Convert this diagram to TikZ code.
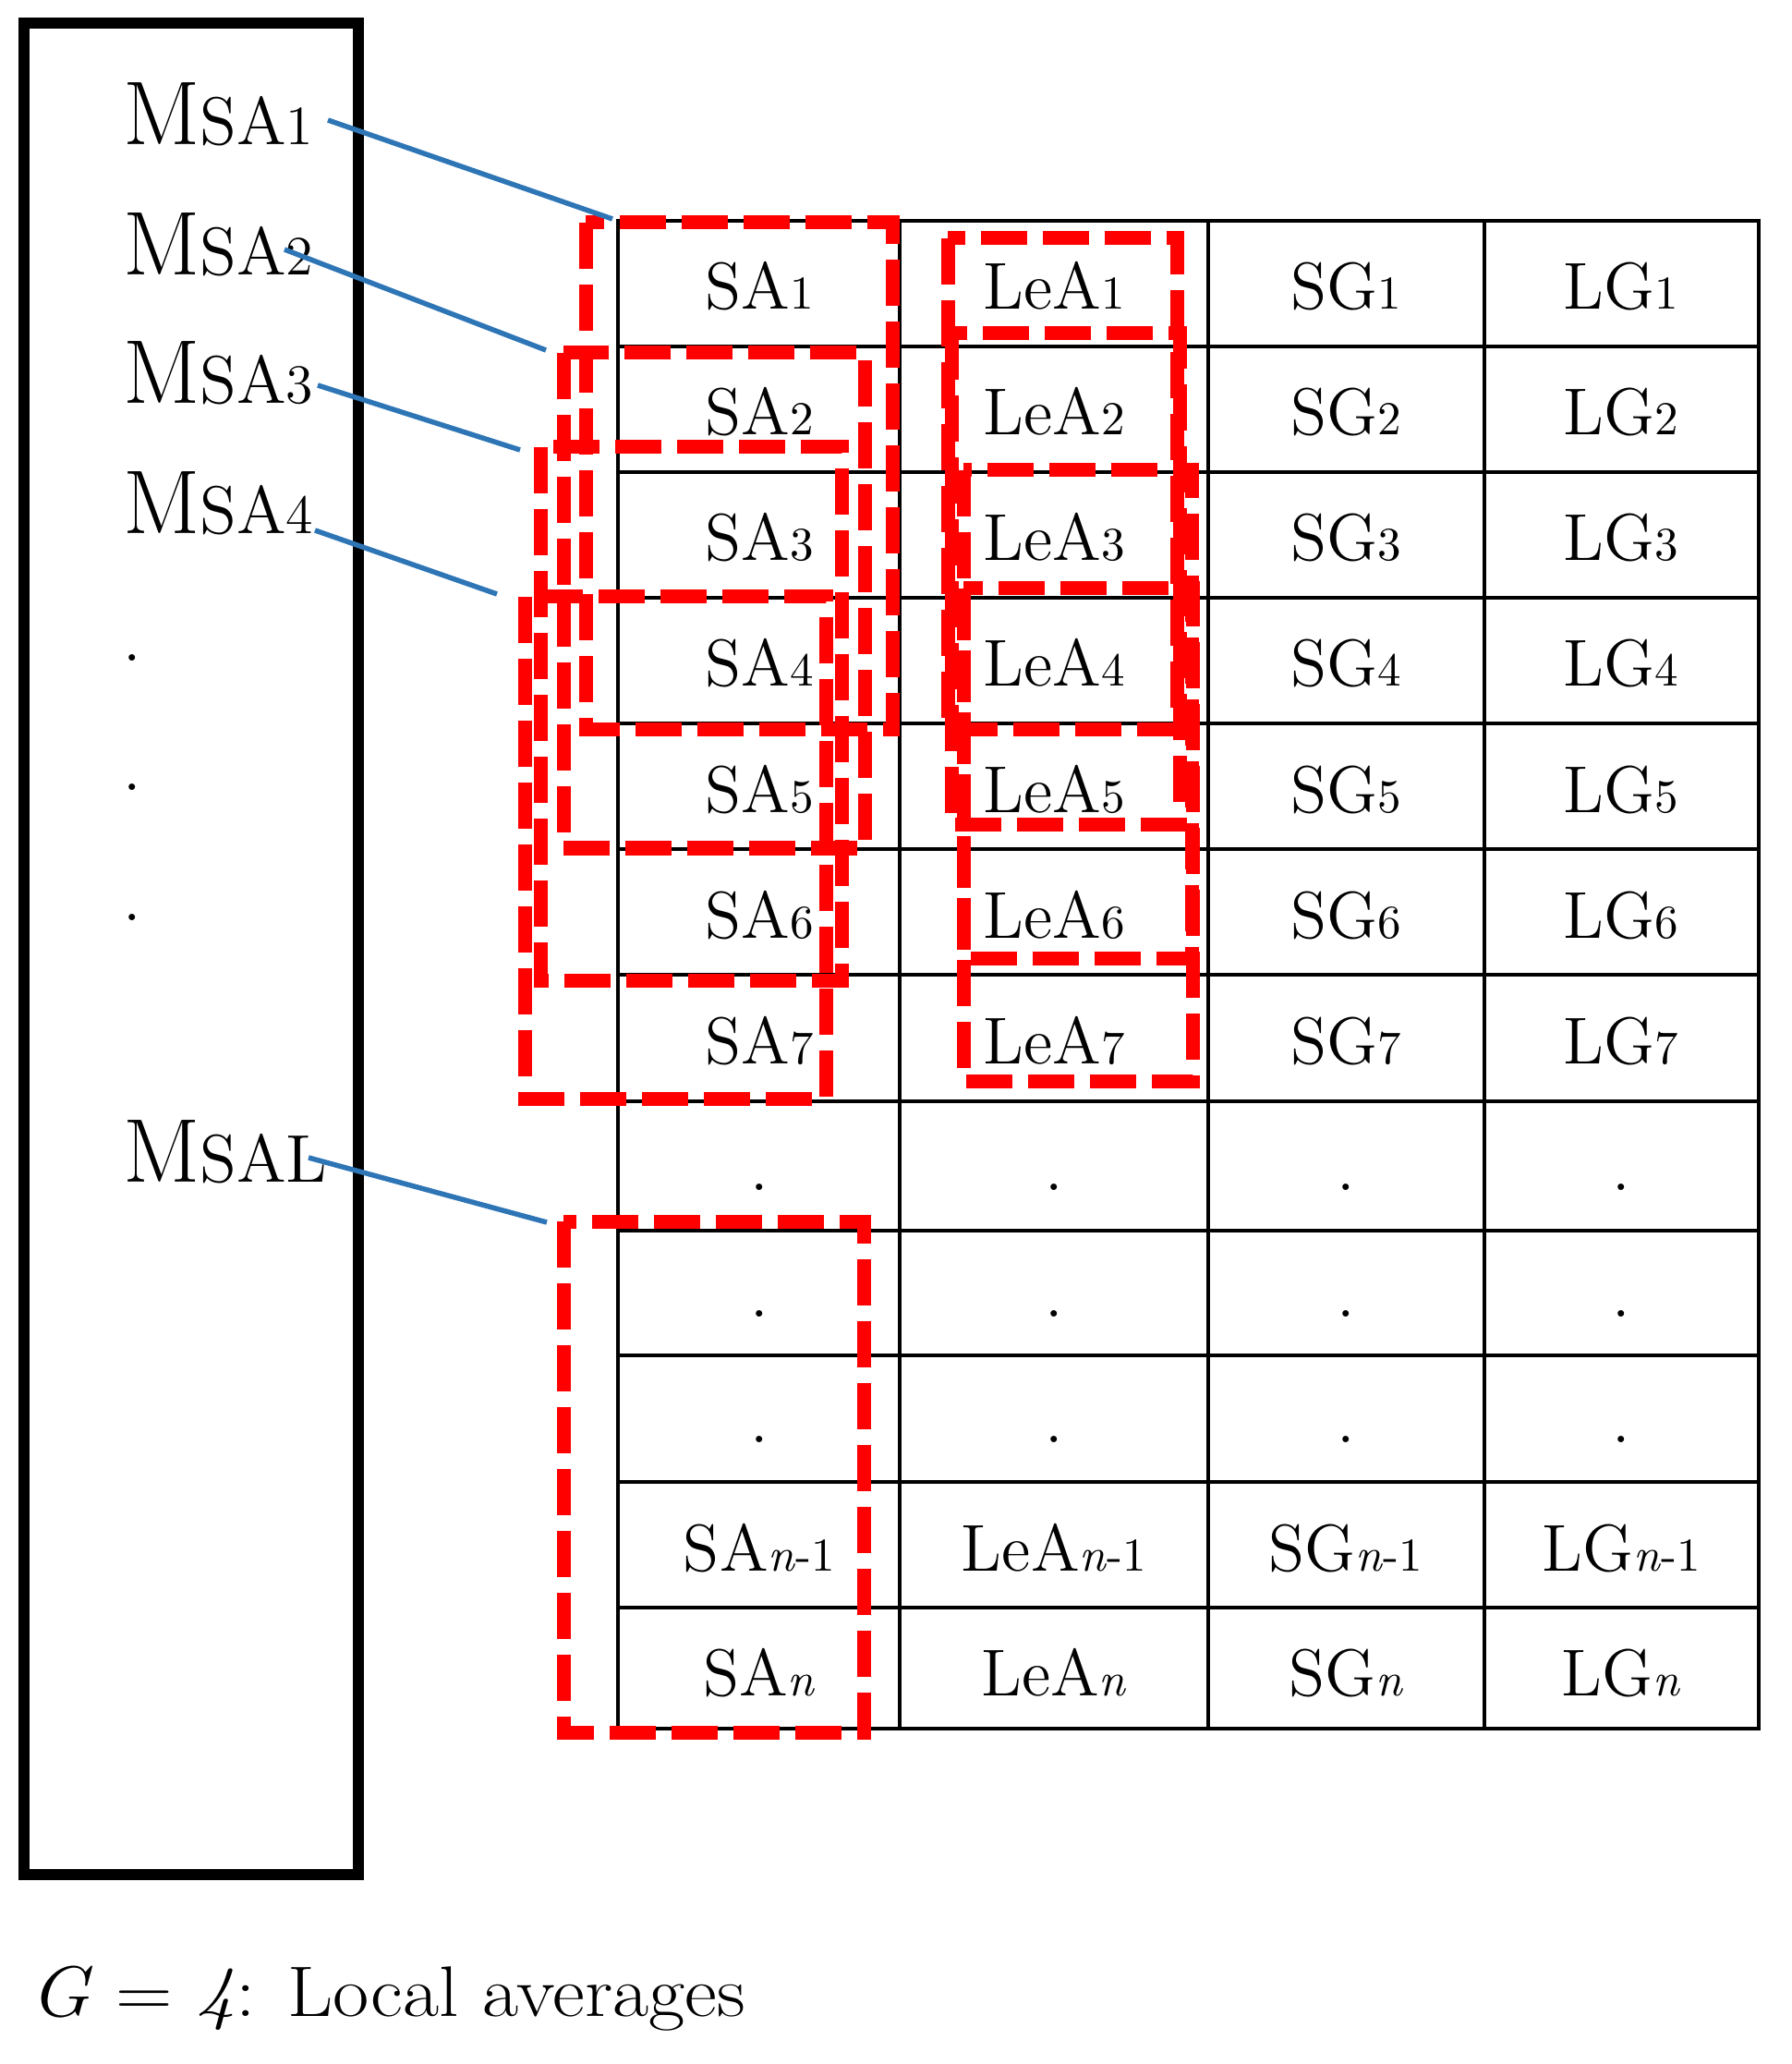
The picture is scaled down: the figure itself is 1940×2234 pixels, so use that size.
\documentclass[tikz,border=0pt]{standalone}
\usepackage{fontspec}
\definecolor{winred}{RGB}{255,0,0}
\definecolor{linkblue}{RGB}{46,117,182}
\newcommand\lowix[1]{{\fontsize{10.2}{12}\selectfont #1}}
\newcommand\msalab[1]{{\fontsize{19.6}{22}\selectfont M}{\fontsize{14.6}{16}\selectfont SA}{\fontsize{12}{14}\selectfont #1}}
\begin{document}
\begin{tikzpicture}[x=0.2pt,y=-0.2pt,
  frame/.style={line width=2.4pt},
  grid/.style={line width=0.7pt},
  win/.style={draw=winred,line width=3pt,dash pattern=on 10pt off 3.4pt,line join=miter},
  link/.style={draw=linkblue,line width=1.1pt},
  cell/.style={anchor=base,inner sep=0pt,font=\fontsize{14.35}{17}\selectfont},
  lab/.style={anchor=base west,inner sep=0pt},
  dotlab/.style={anchor=base,inner sep=0pt,font=\fontsize{14.35}{17}\selectfont},
]
\useasboundingbox (0,0) rectangle (1940,2234);
% left frame
\draw[frame] (26,25) rectangle (388,2029);
% table grid
\draw[grid] (669,239) rectangle (1904,1871);
\foreach \x in {974,1308,1607} \draw[grid] (\x,239) -- (\x,1871);
\foreach \y in {375,511,647,783,919,1055,1192,1332,1467,1604,1740} \draw[grid] (669,\y) -- (1904,\y);
% table texts
\foreach \i/\b in {1/335,2/471,3/607,4/743,5/879,6/1015,7/1151}{
  \node[cell] (sa\i) at (822,\b) {SA\lowix{\i}};
  \node[cell] (lea\i) at (1141,\b) {LeA\lowix{\i}};
  \node[cell] (sg\i) at (1457,\b) {SG\lowix{\i}};
  \node[cell] (lg\i) at (1755,\b) {LG\lowix{\i}};
}
\foreach \r/\b in {8/1288,9/1425,10/1561}{
  \node[dotlab] (da\r) at (822,\b) {.};
  \node[dotlab] (db\r) at (1141,\b) {.};
  \node[dotlab] (dc\r) at (1457,\b) {.};
  \node[dotlab] (dd\r) at (1755,\b) {.};
}
\node[cell] (sam) at (822,1700) {SA\lowix{\textit{n}-1}};
\node[cell] (leam) at (1141,1700) {LeA\lowix{\textit{n}-1}};
\node[cell] (sgm) at (1457,1700) {SG\lowix{\textit{n}-1}};
\node[cell] (lgm) at (1755,1700) {LG\lowix{\textit{n}-1}};
\node[cell] (san) at (822,1835) {SA\lowix{\textit{n}}};
\node[cell] (lean) at (1141,1835) {LeA\lowix{\textit{n}}};
\node[cell] (sgn) at (1457,1835) {SG\lowix{\textit{n}}};
\node[cell] (lgn) at (1755,1835) {LG\lowix{\textit{n}}};
% red windows, SA column
\draw[win] (634,241) rectangle (966,790);
\draw[win] (610,382) rectangle (936,918);
\draw[win] (585,484) rectangle (911,1061);
\draw[win] (568,646) rectangle (894,1189);
\draw[win] (610,1322) rectangle (935,1875);
% red windows, LeA column
\draw[win] (1026,258) rectangle (1274,790);
\draw[win] (1030,361) rectangle (1277,893);
\draw[win] (1043,509) rectangle (1290,1037);
\draw[win] (1043,637) rectangle (1291,1170);
% left labels
\node[lab] (m1) at (132,157) {\msalab{1}};
\node[lab] (m2) at (132,298) {\msalab{2}};
\node[lab] (m3) at (132,437) {\msalab{3}};
\node[lab] (m4) at (132,578) {\msalab{4}};
\node[dotlab] (v1) at (143,716) {.};
\node[dotlab] (v2) at (143,856) {.};
\node[dotlab] (v3) at (143,996) {.};
\node[lab] (mL) at (132,1279) {{\fontsize{19.6}{22}\selectfont M}{\fontsize{14.6}{16}\selectfont SAL}};
% connectors
\coordinate (s1) at (355,130); \coordinate (e1) at (663,237);
\coordinate (s2) at (308,270); \coordinate (e2) at (591,379);
\coordinate (s3) at (344,417); \coordinate (e3) at (563,487);
\coordinate (s4) at (341,574); \coordinate (e4) at (538,643);
\coordinate (sL) at (334,1253); \coordinate (eL) at (592,1323);
\draw[link] (s1) -- (e1);
\draw[link] (s2) -- (e2);
\draw[link] (s3) -- (e3);
\draw[link] (s4) -- (e4);
\draw[link] (sL) -- (eL);
% caption
\node[lab,font=\fontsize{15.5}{18}\selectfont] (cap) at (31,2182) {\scalebox{1.1}[1]{\textit{G} = \textit{4}: Local averages}};
\end{tikzpicture}
\end{document}
